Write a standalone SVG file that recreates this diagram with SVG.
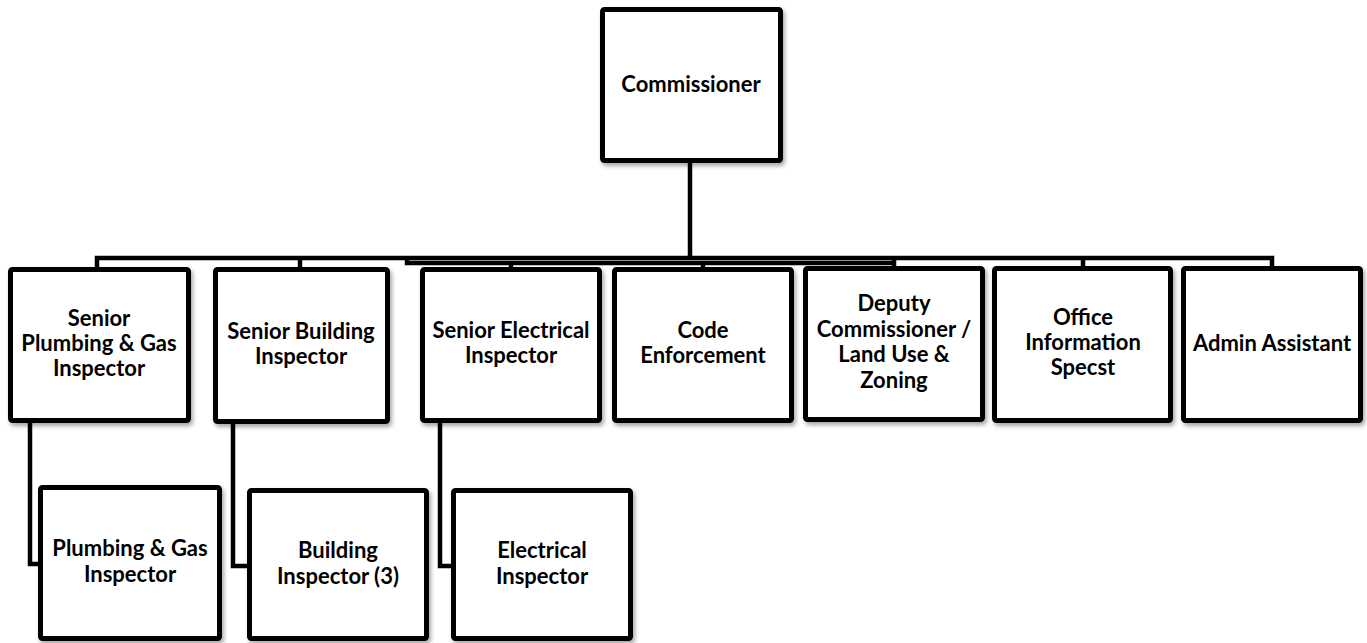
<svg xmlns="http://www.w3.org/2000/svg" width="1367" height="643" viewBox="0 0 1367 643">
<style>
.box{fill:#fff;stroke:#000;stroke-width:5;filter:url(#sh)}
.t{font-family:Lato,"Liberation Sans",sans-serif;font-weight:bold;font-size:22px;fill:#000;text-anchor:middle}
.c{fill:none;stroke:#000;stroke-width:4.5;stroke-linejoin:miter}
</style>
<defs>
<filter id="sh" x="-10%" y="-10%" width="130%" height="130%">
<feDropShadow dx="2" dy="3" stdDeviation="2" flood-color="#000" flood-opacity="0.35"/>
</filter>
</defs>
<rect width="1367" height="643" fill="#fff"/>
<g id="connectors">
<path class="c" d="M690 163 V258"/>
<path class="c" d="M97 267 V258 H1272 V266"/>
<path class="c" d="M300 258 V267"/>
<path class="c" d="M1083 258 V266"/>
<path class="c" d="M407 258 V263 H894"/>
<path class="c" d="M894 258 V266"/>
<path class="c" d="M511 263 V267"/>
<path class="c" d="M703 263 V267"/>
<path class="c" d="M30 423 V564 H40"/>
<path class="c" d="M233 424 V566 H249"/>
<path class="c" d="M440 423 V566 H453"/>
</g>
<g id="commissioner">
<rect class="box" x="602.5" y="9.5" width="178" height="151" rx="2"/>
<text class="t" x="691" y="92">Commissioner</text>
</g>
<g id="senior-plumbing">
<rect class="box" x="10.5" y="269.5" width="178" height="151" rx="2"/>
<text class="t" x="99" y="326">Senior</text>
<text class="t" x="99" y="351">Plumbing &amp; Gas</text>
<text class="t" x="99" y="376">Inspector</text>
</g>
<g id="senior-building">
<rect class="box" x="215.5" y="269.5" width="172" height="152" rx="2"/>
<text class="t" x="301" y="339">Senior Building</text>
<text class="t" x="301" y="364">Inspector</text>
</g>
<g id="senior-electrical">
<rect class="box" x="422.5" y="269.5" width="177" height="151" rx="2"/>
<text class="t" x="511" y="338">Senior Electrical</text>
<text class="t" x="511" y="363">Inspector</text>
</g>
<g id="code-enforcement">
<rect class="box" x="614.5" y="269.5" width="177" height="151" rx="2"/>
<text class="t" x="703" y="338">Code</text>
<text class="t" x="703" y="363">Enforcement</text>
</g>
<g id="deputy">
<rect class="box" x="805.5" y="268.5" width="177" height="151" rx="2"/>
<text class="t" x="894" y="311">Deputy</text>
<text class="t" x="894" y="337">Commissioner /</text>
<text class="t" x="894" y="362">Land Use &amp;</text>
<text class="t" x="894" y="388">Zoning</text>
</g>
<g id="office-info">
<rect class="box" x="994.5" y="268.5" width="176" height="152" rx="2"/>
<text class="t" x="1083" y="325">Office</text>
<text class="t" x="1083" y="350">Information</text>
<text class="t" x="1083" y="375">Specst</text>
</g>
<g id="admin-assistant">
<rect class="box" x="1183.5" y="268.5" width="177" height="152" rx="2"/>
<text class="t" x="1272" y="351">Admin Assistant</text>
</g>
<g id="plumbing-gas">
<rect class="box" x="40.5" y="487.5" width="179" height="151" rx="2"/>
<text class="t" x="130" y="556">Plumbing &amp; Gas</text>
<text class="t" x="130" y="582">Inspector</text>
</g>
<g id="building-inspector">
<rect class="box" x="249.5" y="490.5" width="177" height="148" rx="2"/>
<text class="t" x="338" y="558">Building</text>
<text class="t" x="338" y="584">Inspector (3)</text>
</g>
<g id="electrical-inspector">
<rect class="box" x="453.5" y="490.5" width="177" height="148" rx="2"/>
<text class="t" x="542" y="558">Electrical</text>
<text class="t" x="542" y="584">Inspector</text>
</g>
</svg>
